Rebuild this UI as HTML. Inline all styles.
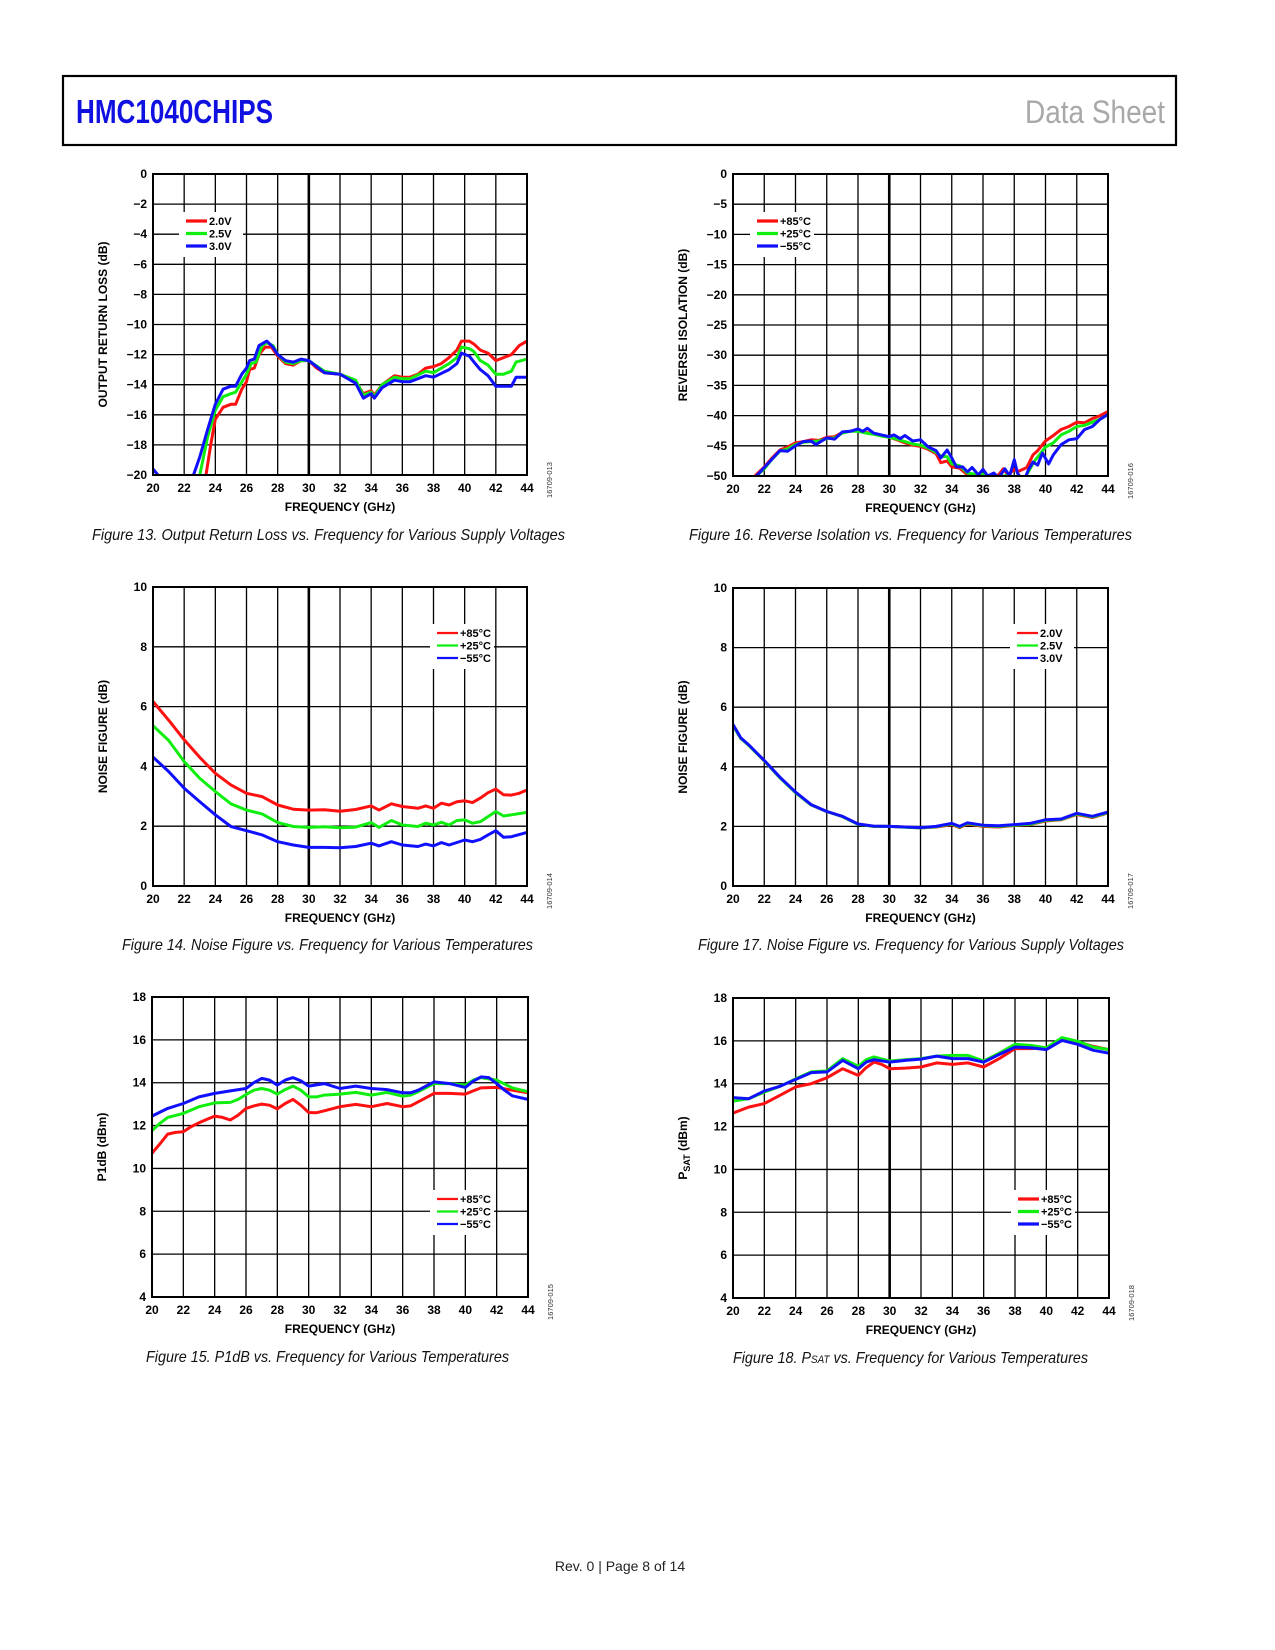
<!DOCTYPE html>
<html><head><meta charset="utf-8"><style>
html,body{margin:0;padding:0;background:#fff;}
svg{display:block;font-family:"Liberation Sans",sans-serif;}
</style></head><body>
<svg id="page" width="1275" height="1650" viewBox="0 0 1275 1650" xmlns="http://www.w3.org/2000/svg">
<rect x="0" y="0" width="1275" height="1650" fill="#fff"/>
<rect x="63" y="76" width="1113" height="69" fill="none" stroke="#000" stroke-width="2.2"/>
<text x="76" y="123" font-size="33" font-weight="bold" fill="#1010e0" textLength="197" lengthAdjust="spacingAndGlyphs">HMC1040CHIPS</text>
<text x="1165" y="123" font-size="32" fill="#a8a8a8" text-anchor="end" textLength="140" lengthAdjust="spacingAndGlyphs">Data Sheet</text>
<text x="620" y="1571" font-size="14" fill="#222" text-anchor="middle">Rev. 0 | Page 8 of 14</text>
<g id="charts"></g>
</svg>
<script>
const xTicks = ["20","22","24","26","28","30","32","34","36","38","40","42","44"];
const c1YTicks = ["0","\u22122","\u22124","\u22126","\u22128","\u221210","\u221212","\u221214","\u221216","\u221218","\u221220"];
const c2YTicks = ["0","\u22125","\u221210","\u221215","\u221220","\u221225","\u221230","\u221235","\u221240","\u221245","\u221250"];
const nfYTicks = ["10","8","6","4","2","0"];
const pYTicks = ["18","16","14","12","10","8","6","4"];
const voltLabels = ["2.0V","2.5V","3.0V"];
const tempLabels = ["+85\u00b0C","+25\u00b0C","\u221255\u00b0C"];

const c1Red = [[20,-22],[23.2,-21],[23.4,-20],[23.7,-18],[24,-16.3],[24.5,-15.5],[25,-15.3],[25.3,-15.3],[25.7,-14.3],[26,-13.8],[26.2,-13],[26.5,-12.9],[26.8,-12],[27.2,-11.5],[27.6,-11.5],[28,-12.1],[28.5,-12.6],[29,-12.7],[29.5,-12.4],[30,-12.4],[30.5,-12.9],[31,-13.2],[32,-13.3],[33,-13.8],[33.5,-14.6],[34,-14.4],[34.2,-14.7],[34.7,-14],[35.5,-13.4],[36,-13.5],[36.5,-13.5],[37,-13.3],[37.5,-12.9],[38,-12.8],[38.5,-12.6],[39,-12.2],[39.5,-11.7],[39.8,-11.1],[40.3,-11.1],[40.6,-11.3],[41,-11.7],[41.5,-11.9],[42,-12.4],[42.5,-12.2],[43,-12],[43.5,-11.4],[44,-11.1]];
const c1Green = [[20,-20],[20.4,-21],[22.6,-21.5],[23,-20],[23.5,-17.5],[24,-15.7],[24.5,-14.8],[25,-14.6],[25.3,-14.5],[26,-13.3],[26.3,-12.6],[26.6,-12.5],[27,-11.4],[27.3,-11.2],[27.7,-11.4],[28,-12],[28.5,-12.5],[29,-12.6],[29.5,-12.4],[30,-12.4],[31,-13.1],[32,-13.3],[33,-13.7],[33.5,-14.7],[34,-14.5],[34.2,-14.8],[34.7,-14],[35.5,-13.5],[36,-13.6],[36.5,-13.6],[37.5,-13.1],[38,-13.2],[39,-12.6],[39.5,-12.2],[39.8,-11.5],[40.3,-11.6],[40.6,-11.8],[41,-12.4],[41.5,-12.7],[42,-13.3],[42.5,-13.3],[43,-13.1],[43.3,-12.5],[44,-12.3]];
const c1Blue = [[20,-19.6],[20.4,-20.1],[21,-22],[22.3,-21],[22.6,-20],[23,-18.8],[23.5,-17],[24,-15.3],[24.5,-14.3],[25,-14.1],[25.3,-14.1],[25.7,-13.3],[26,-12.9],[26.2,-12.4],[26.5,-12.3],[26.8,-11.4],[27.3,-11.1],[27.7,-11.5],[28,-12],[28.5,-12.4],[29,-12.5],[29.5,-12.3],[30,-12.4],[31,-13.2],[32,-13.3],[33,-13.9],[33.5,-14.9],[34,-14.6],[34.2,-14.9],[34.7,-14.2],[35.5,-13.7],[36,-13.8],[36.5,-13.8],[37.5,-13.4],[38,-13.5],[39,-13],[39.5,-12.6],[39.8,-11.9],[40.3,-12.1],[40.6,-12.5],[41,-13],[41.5,-13.4],[42,-14.1],[42.5,-14.1],[43,-14.1],[43.3,-13.5],[44,-13.5]];

const c2Red = [[21.4,-50],[22,-48.5],[22.5,-47],[23,-45.7],[23.5,-45.2],[24,-44.5],[24.5,-44.3],[25,-44],[25.5,-44.1],[26,-43.6],[26.5,-43.5],[27,-42.8],[27.5,-42.6],[28,-42.5],[28.5,-42.8],[29,-43],[29.5,-43.3],[30,-43.6],[30.5,-44],[31,-44.5],[31.5,-44.9],[32,-45.1],[32.5,-45.6],[33,-46.3],[33.3,-47.8],[33.7,-47.5],[34,-48.5],[34.5,-48.7],[35,-49.8],[35.5,-50],[36,-49.8],[36.5,-50.3],[37,-49.8],[37.3,-48.8],[37.6,-49.8],[38,-48.9],[38.3,-49.2],[38.8,-48.6],[39.2,-46.5],[39.5,-45.8],[40,-44.2],[40.5,-43.3],[41,-42.3],[41.5,-41.8],[42,-41.1],[42.5,-41.2],[43,-40.5],[43.5,-40],[44,-39.3]];
const c2Green = [[21.5,-50],[22,-48.8],[22.5,-47.2],[23,-45.9],[23.5,-45.5],[24,-44.8],[24.5,-44.4],[25,-44.3],[25.5,-44.2],[26,-43.8],[26.5,-43.7],[27,-42.9],[27.5,-42.6],[28,-42.6],[28.5,-42.9],[29,-43.1],[29.5,-43.4],[30,-43.6],[30.5,-43.9],[31,-44.3],[31.5,-44.7],[32,-44.9],[32.5,-45.4],[33,-46.1],[33.3,-46.7],[33.7,-46.8],[34,-48],[34.5,-48.3],[35,-49.5],[35.5,-49.7],[36,-49.7],[36.5,-50.1],[37,-50.2],[37.5,-49.9],[38,-50.2],[38.7,-50.2],[39.3,-47.5],[40,-45.2],[40.5,-44.5],[41,-43.2],[41.5,-42.6],[42,-41.8],[42.5,-41.6],[43,-41.1],[43.5,-40.6],[44,-39.8]];
const c2Blue = [[21.5,-50],[22,-48.6],[23,-45.8],[23.5,-45.9],[24,-45],[24.5,-44.3],[25,-44.2],[25.3,-44.8],[26,-43.7],[26.5,-43.9],[27,-42.7],[27.5,-42.6],[28,-42.2],[28.3,-42.6],[28.6,-42.1],[29,-42.9],[29.5,-43.2],[30,-43.5],[30.3,-43.2],[30.7,-43.8],[31,-43.3],[31.5,-44.2],[32,-44],[32.5,-45.2],[33,-45.8],[33.3,-47],[33.7,-45.7],[34,-47],[34.3,-48.5],[34.7,-48.5],[35,-49.3],[35.3,-48.6],[35.7,-49.8],[36,-48.9],[36.3,-50],[36.7,-49.5],[37,-50.3],[37.4,-48.8],[37.7,-50],[38,-47.3],[38.2,-49.5],[38.6,-51],[38.9,-49],[39.2,-47.7],[39.5,-48.2],[39.8,-46.2],[40.2,-48],[40.5,-46.5],[41,-44.8],[41.5,-44],[42,-43.8],[42.5,-42.3],[43,-41.8],[43.5,-40.6],[44,-39.8]];

const c3Red = [[20,6.17],[21,5.55],[22,4.89],[23,4.3],[24,3.77],[25,3.38],[26,3.1],[27,2.99],[28,2.71],[29,2.57],[30,2.54],[31,2.55],[32,2.5],[33,2.56],[34,2.68],[34.5,2.54],[35.3,2.75],[36,2.66],[37,2.6],[37.5,2.68],[38,2.6],[38.5,2.77],[39,2.71],[39.5,2.82],[40,2.85],[40.5,2.79],[41,2.94],[41.5,3.12],[42,3.24],[42.5,3.05],[43,3.04],[43.5,3.1],[44,3.21]];
const c3Green = [[20,5.36],[21,4.87],[22,4.16],[23,3.6],[24,3.16],[25,2.75],[26,2.54],[27,2.41],[28,2.12],[29,1.99],[30,1.96],[31,1.98],[32,1.95],[33,1.97],[34,2.12],[34.5,1.96],[35.3,2.19],[36,2.04],[37,1.99],[37.5,2.1],[38,2.04],[38.5,2.13],[39,2.04],[39.5,2.19],[40,2.21],[40.5,2.1],[41,2.15],[41.5,2.32],[42,2.49],[42.5,2.34],[43,2.38],[44,2.46]];
const c3Blue = [[20,4.31],[21,3.83],[22,3.27],[23,2.82],[24,2.38],[25,1.99],[26,1.85],[27,1.71],[28,1.48],[29,1.37],[30,1.29],[31,1.29],[32,1.28],[33,1.32],[34,1.43],[34.5,1.34],[35.3,1.48],[36,1.37],[37,1.32],[37.5,1.4],[38,1.34],[38.5,1.45],[39,1.37],[40,1.54],[40.5,1.48],[41,1.56],[41.5,1.71],[42,1.85],[42.5,1.63],[43,1.65],[44,1.79]];

const c4Red = [[20,5.4],[20.5,4.95],[21,4.73],[22,4.2],[23,3.64],[24,3.14],[25,2.72],[26,2.5],[27,2.33],[28,2.08],[29,2.0],[30,2.0],[31,1.98],[32,1.95],[33,1.98],[34,2.06],[34.5,1.96],[35,2.08],[36,2.0],[37,1.98],[38,2.03],[39,2.06],[40,2.18],[41,2.22],[42,2.4],[43,2.3],[44,2.45]];
const c4Green = [[20,5.38],[20.5,4.95],[21,4.72],[22,4.2],[23,3.63],[24,3.13],[25,2.72],[26,2.5],[27,2.33],[28,2.07],[29,2.0],[30,2.0],[31,1.97],[32,1.95],[33,1.99],[34,2.08],[34.5,1.98],[35,2.1],[36,2.02],[37,2.0],[38,2.04],[39,2.07],[40,2.2],[41,2.23],[42,2.42],[43,2.32],[44,2.46]];
const c4Blue = [[20,5.42],[20.5,4.97],[21,4.74],[22,4.21],[23,3.65],[24,3.15],[25,2.73],[26,2.5],[27,2.34],[28,2.08],[29,2.01],[30,2.0],[31,1.98],[32,1.96],[33,2.0],[34,2.1],[34.5,2.0],[35,2.12],[36,2.04],[37,2.02],[38,2.06],[39,2.1],[40,2.22],[41,2.25],[42,2.44],[43,2.34],[44,2.48]];

const c5Red = [[20,10.71],[20.5,11.14],[21,11.6],[21.5,11.68],[22,11.71],[22.5,11.95],[23,12.13],[23.5,12.29],[24,12.44],[24.5,12.38],[25,12.26],[25.5,12.49],[26,12.8],[26.5,12.92],[27,13.0],[27.5,12.95],[28,12.78],[28.5,13.03],[29,13.22],[29.5,12.95],[30,12.61],[30.5,12.6],[31,12.69],[32,12.88],[33,12.99],[34,12.88],[35,13.03],[36,12.88],[36.5,12.92],[37,13.11],[38,13.5],[39,13.5],[40,13.47],[40.5,13.62],[41,13.76],[42,13.78],[43,13.65],[44,13.53]];
const c5Green = [[20,11.76],[20.5,12.1],[21,12.38],[22,12.57],[23,12.88],[24,13.06],[25,13.08],[25.5,13.22],[26,13.45],[26.5,13.65],[27,13.73],[27.5,13.65],[28,13.47],[28.5,13.68],[29,13.84],[29.5,13.65],[30,13.34],[30.5,13.34],[31,13.42],[32,13.47],[33,13.55],[34,13.42],[35,13.55],[36,13.37],[36.5,13.42],[37,13.58],[38,13.96],[39,13.96],[40,13.89],[40.5,14.12],[41,14.24],[42,14.12],[43,13.76],[44,13.58]];
const c5Blue = [[20,12.44],[21,12.8],[22,13.03],[23,13.34],[24,13.5],[25,13.62],[26,13.73],[26.5,14.0],[27,14.2],[27.5,14.12],[28,13.89],[28.5,14.12],[29,14.24],[29.5,14.09],[30,13.84],[31,13.96],[32,13.73],[33,13.84],[34,13.73],[35,13.68],[36,13.53],[36.5,13.53],[37,13.65],[38,14.04],[39,13.96],[40,13.78],[40.5,14.07],[41,14.27],[41.5,14.24],[42,13.96],[42.5,13.65],[43,13.39],[44,13.22]];

const c6Red = [[20,12.63],[21,12.91],[22,13.07],[23,13.46],[24,13.85],[25,14.0],[26,14.28],[27,14.7],[28,14.39],[28.5,14.75],[29,15.01],[29.5,14.9],[30,14.7],[31,14.73],[32,14.78],[33,14.97],[34,14.9],[35,14.97],[36,14.78],[37,15.17],[38,15.64],[39,15.64],[40,15.68],[41,16.02],[42,15.95],[43,15.74],[44,15.59]];
const c6Green = [[20,13.19],[21,13.3],[22,13.61],[23,13.88],[24,14.23],[25,14.55],[26,14.6],[27,15.17],[28,14.81],[28.5,15.12],[29,15.25],[30,15.06],[31,15.12],[32,15.17],[33,15.29],[34,15.32],[35,15.32],[36,15.06],[37,15.43],[38,15.84],[39,15.79],[40,15.67],[41,16.15],[42,15.98],[43,15.71],[44,15.59]];
const c6Blue = [[20,13.35],[21,13.3],[22,13.66],[23,13.88],[24,14.2],[25,14.52],[26,14.55],[27,15.09],[28,14.7],[28.5,15.01],[29,15.12],[30,15.01],[31,15.09],[32,15.15],[33,15.29],[34,15.17],[35,15.17],[36,15.01],[37,15.37],[38,15.71],[39,15.68],[40,15.59],[41,16.02],[42,15.84],[43,15.56],[44,15.43]];

const NS = "http://www.w3.org/2000/svg";
const root = document.getElementById('charts');
function el(tag, attrs, parent) {
  const e = document.createElementNS(NS, tag);
  for (const k in attrs) e.setAttribute(k, attrs[k]);
  (parent || root).appendChild(e);
  return e;
}
const COLORS = ["#ff1010", "#10ee10", "#1010ff"];

function drawChart(c) {
  const g = el('g', {});
  
  
  const W = c.r - c.l, H = c.b - c.t;
  const xs = f => c.l + (f - 20) / 24 * W;
  const ys = v => c.t + (c.ymax - v) / (c.ymax - c.ymin) * H;
  // grid
  for (let i = 0; i < xTicks.length; i++) {
    const x = xs(20 + 2 * i);
    const ln = el('line', {x1: x, x2: x, y1: c.t, y2: c.b, stroke: '#000', 'stroke-width': (c.bold && i === 5) ? 2.6 : 1.3}, g);
    
    
    const t = el('text', {x: x, y: c.b + 17, 'font-size': 12, 'font-weight': 'bold', 'text-anchor': 'middle'}, g);
    
    
    t.textContent = xTicks[i];
  }
  const n = c.yticks.length;
  for (let i = 0; i < n; i++) {
    const y = c.t + i / (n - 1) * H;
    const ln = el('line', {x1: c.l, x2: c.r, y1: y, y2: y, stroke: '#000', 'stroke-width': 1.3}, g);
    
    
    const t = el('text', {x: c.l - 6, y: y + 4, 'font-size': 12, 'font-weight': 'bold', 'text-anchor': 'end'}, g);
    
    
    t.textContent = c.yticks[i];
  }
  // legend background
  const lg = c.legend;
  const bg = el('rect', {x: lg.x - 7, y: lg.y - 9, width: 64, height: 45, fill: '#fff'}, g);
  
  
  // series
  const clipId = c.name + '-clip';
  const cp = el('clipPath', {id: clipId}, g);
  el('rect', {x: c.l, y: c.t - 1, width: W, height: H + 1}, cp);
  const sg = el('g', {'clip-path': 'url(#' + clipId + ')'}, g);
  c.series.forEach((s, i) => {
    const d = s.map((p, j) => (j ? 'L' : 'M') + xs(p[0]).toFixed(1) + ' ' + ys(p[1]).toFixed(1)).join(' ');
    const p = el('path', {d: d, fill: 'none', stroke: COLORS[i], 'stroke-width': 3, 'stroke-linejoin': 'round', 'stroke-linecap': 'round'}, sg);
    
    
  });
  // border
  const bd = el('rect', {x: c.l, y: c.t, width: W, height: H, fill: 'none', stroke: '#000', 'stroke-width': 2}, g);
  
  
  // legend
  c.legendLabels.forEach((lab, i) => {
    const y = lg.y + i * 12.5;
    const ln = el('line', {x1: lg.x, x2: lg.x + 21, y1: y, y2: y, stroke: COLORS[i], 'stroke-width': c.thin ? 2.2 : 3.2}, g);
    
    
    const t = el('text', {x: lg.x + 23, y: y + 4, 'font-size': 11, 'font-weight': 'bold'}, g);
    
    
    t.textContent = lab;
  });
  // axis titles
  const xt = el('text', {x: (c.l + c.r) / 2, y: c.b + 36, 'font-size': 12, 'font-weight': 'bold', 'text-anchor': 'middle'}, g);
  
  
  xt.textContent = 'FREQUENCY (GHz)';
  const cy = (c.t + c.b) / 2;
  const yt = el('text', {x: 0, y: 0, 'font-size': 12, 'font-weight': 'bold', 'text-anchor': 'middle', transform: 'translate(' + (c.l - 46) + ',' + cy + ') rotate(-90)'}, g);
  
  
  if (c.psat) {
    yt.appendChild(document.createTextNode('P'));
    const sub = el('tspan', {'font-size': 9, dy: 3}, yt);
    sub.textContent = 'SAT';
    const rest = el('tspan', {dy: -3}, yt);
    rest.textContent = ' (dBm)';
  } else yt.textContent = c.ytitle;
  // figure id
  const fid = el('text', {x: 0, y: 0, 'font-size': 7.5, fill: '#333', 'text-anchor': 'middle', transform: 'translate(' + (c.r + 25) + ',' + (c.b + 5) + ') rotate(-90)'}, g);
  
  
  fid.textContent = c.fid;
  // caption
  const cap = el('text', {x: c.cap[0], y: c.cap[2], 'font-size': 16, 'font-style': 'italic', fill: '#111', textLength: c.cap[1] - c.cap[0], lengthAdjust: 'spacingAndGlyphs'}, g);
  
  
  if (c.psat) {
    cap.appendChild(document.createTextNode('Figure 18. P'));
    const s = el('tspan', {'font-size': 11}, cap);
    s.textContent = 'SAT';
    const r = el('tspan', {}, cap);
    r.textContent = ' vs. Frequency for Various Temperatures';
  } else cap.textContent = c.caption;
}

drawChart({name: 'output-return-loss-chart', l: 153, r: 527, t: 174, b: 475, ymin: -20, ymax: 0, yticks: c1YTicks, bold: true,
  series: [c1Red, c1Green, c1Blue], seriesNames: ['series-2v0', 'series-2v5', 'series-3v0'], legendLabels: voltLabels,
  legend: {x: 186, y: 221}, ytitle: 'OUTPUT RETURN LOSS (dB)', fid: '16709-013',
  cap: [92, 565, 540], caption: 'Figure 13. Output Return Loss vs. Frequency for Various Supply Voltages'});
drawChart({name: 'reverse-isolation-chart', l: 733, r: 1108, t: 174, b: 476, ymin: -50, ymax: 0, yticks: c2YTicks, bold: true,
  series: [c2Red, c2Green, c2Blue], seriesNames: ['series-85c', 'series-25c', 'series-minus55c'], legendLabels: tempLabels,
  legend: {x: 757, y: 221}, ytitle: 'REVERSE ISOLATION (dB)', fid: '16709-016',
  cap: [689, 1132, 540], caption: 'Figure 16. Reverse Isolation vs. Frequency for Various Temperatures'});
drawChart({name: 'noise-figure-temp-chart', l: 153, r: 527, t: 587, b: 886, ymin: 0, ymax: 10, yticks: nfYTicks, bold: true, thin: true,
  series: [c3Red, c3Green, c3Blue], seriesNames: ['series-85c', 'series-25c', 'series-minus55c'], legendLabels: tempLabels,
  legend: {x: 437, y: 633}, ytitle: 'NOISE FIGURE (dB)', fid: '16709-014',
  cap: [122, 533, 950], caption: 'Figure 14. Noise Figure vs. Frequency for Various Temperatures'});
drawChart({name: 'noise-figure-voltage-chart', l: 733, r: 1108, t: 588, b: 886, ymin: 0, ymax: 10, yticks: nfYTicks, bold: true, thin: true,
  series: [c4Red, c4Green, c4Blue], seriesNames: ['series-2v0', 'series-2v5', 'series-3v0'], legendLabels: voltLabels,
  legend: {x: 1017, y: 633}, ytitle: 'NOISE FIGURE (dB)', fid: '16709-017',
  cap: [698, 1124, 950], caption: 'Figure 17. Noise Figure vs. Frequency for Various Supply Voltages'});
drawChart({name: 'p1db-chart', l: 152, r: 528, t: 997, b: 1297, ymin: 4, ymax: 18, yticks: pYTicks, bold: false, thin: true,
  series: [c5Red, c5Green, c5Blue], seriesNames: ['series-85c', 'series-25c', 'series-minus55c'], legendLabels: tempLabels,
  legend: {x: 437, y: 1199}, ytitle: 'P1dB (dBm)', fid: '16709-015',
  cap: [146, 509, 1362], caption: 'Figure 15. P1dB vs. Frequency for Various Temperatures'});
drawChart({name: 'psat-chart', l: 733, r: 1109, t: 998, b: 1298, ymin: 4, ymax: 18, yticks: pYTicks, bold: true, psat: true,
  series: [c6Red, c6Green, c6Blue], seriesNames: ['series-85c', 'series-25c', 'series-minus55c'], legendLabels: tempLabels,
  legend: {x: 1018, y: 1199}, ytitle: '', fid: '16709-018',
  cap: [733, 1088, 1363]});
</script>
</body></html>
